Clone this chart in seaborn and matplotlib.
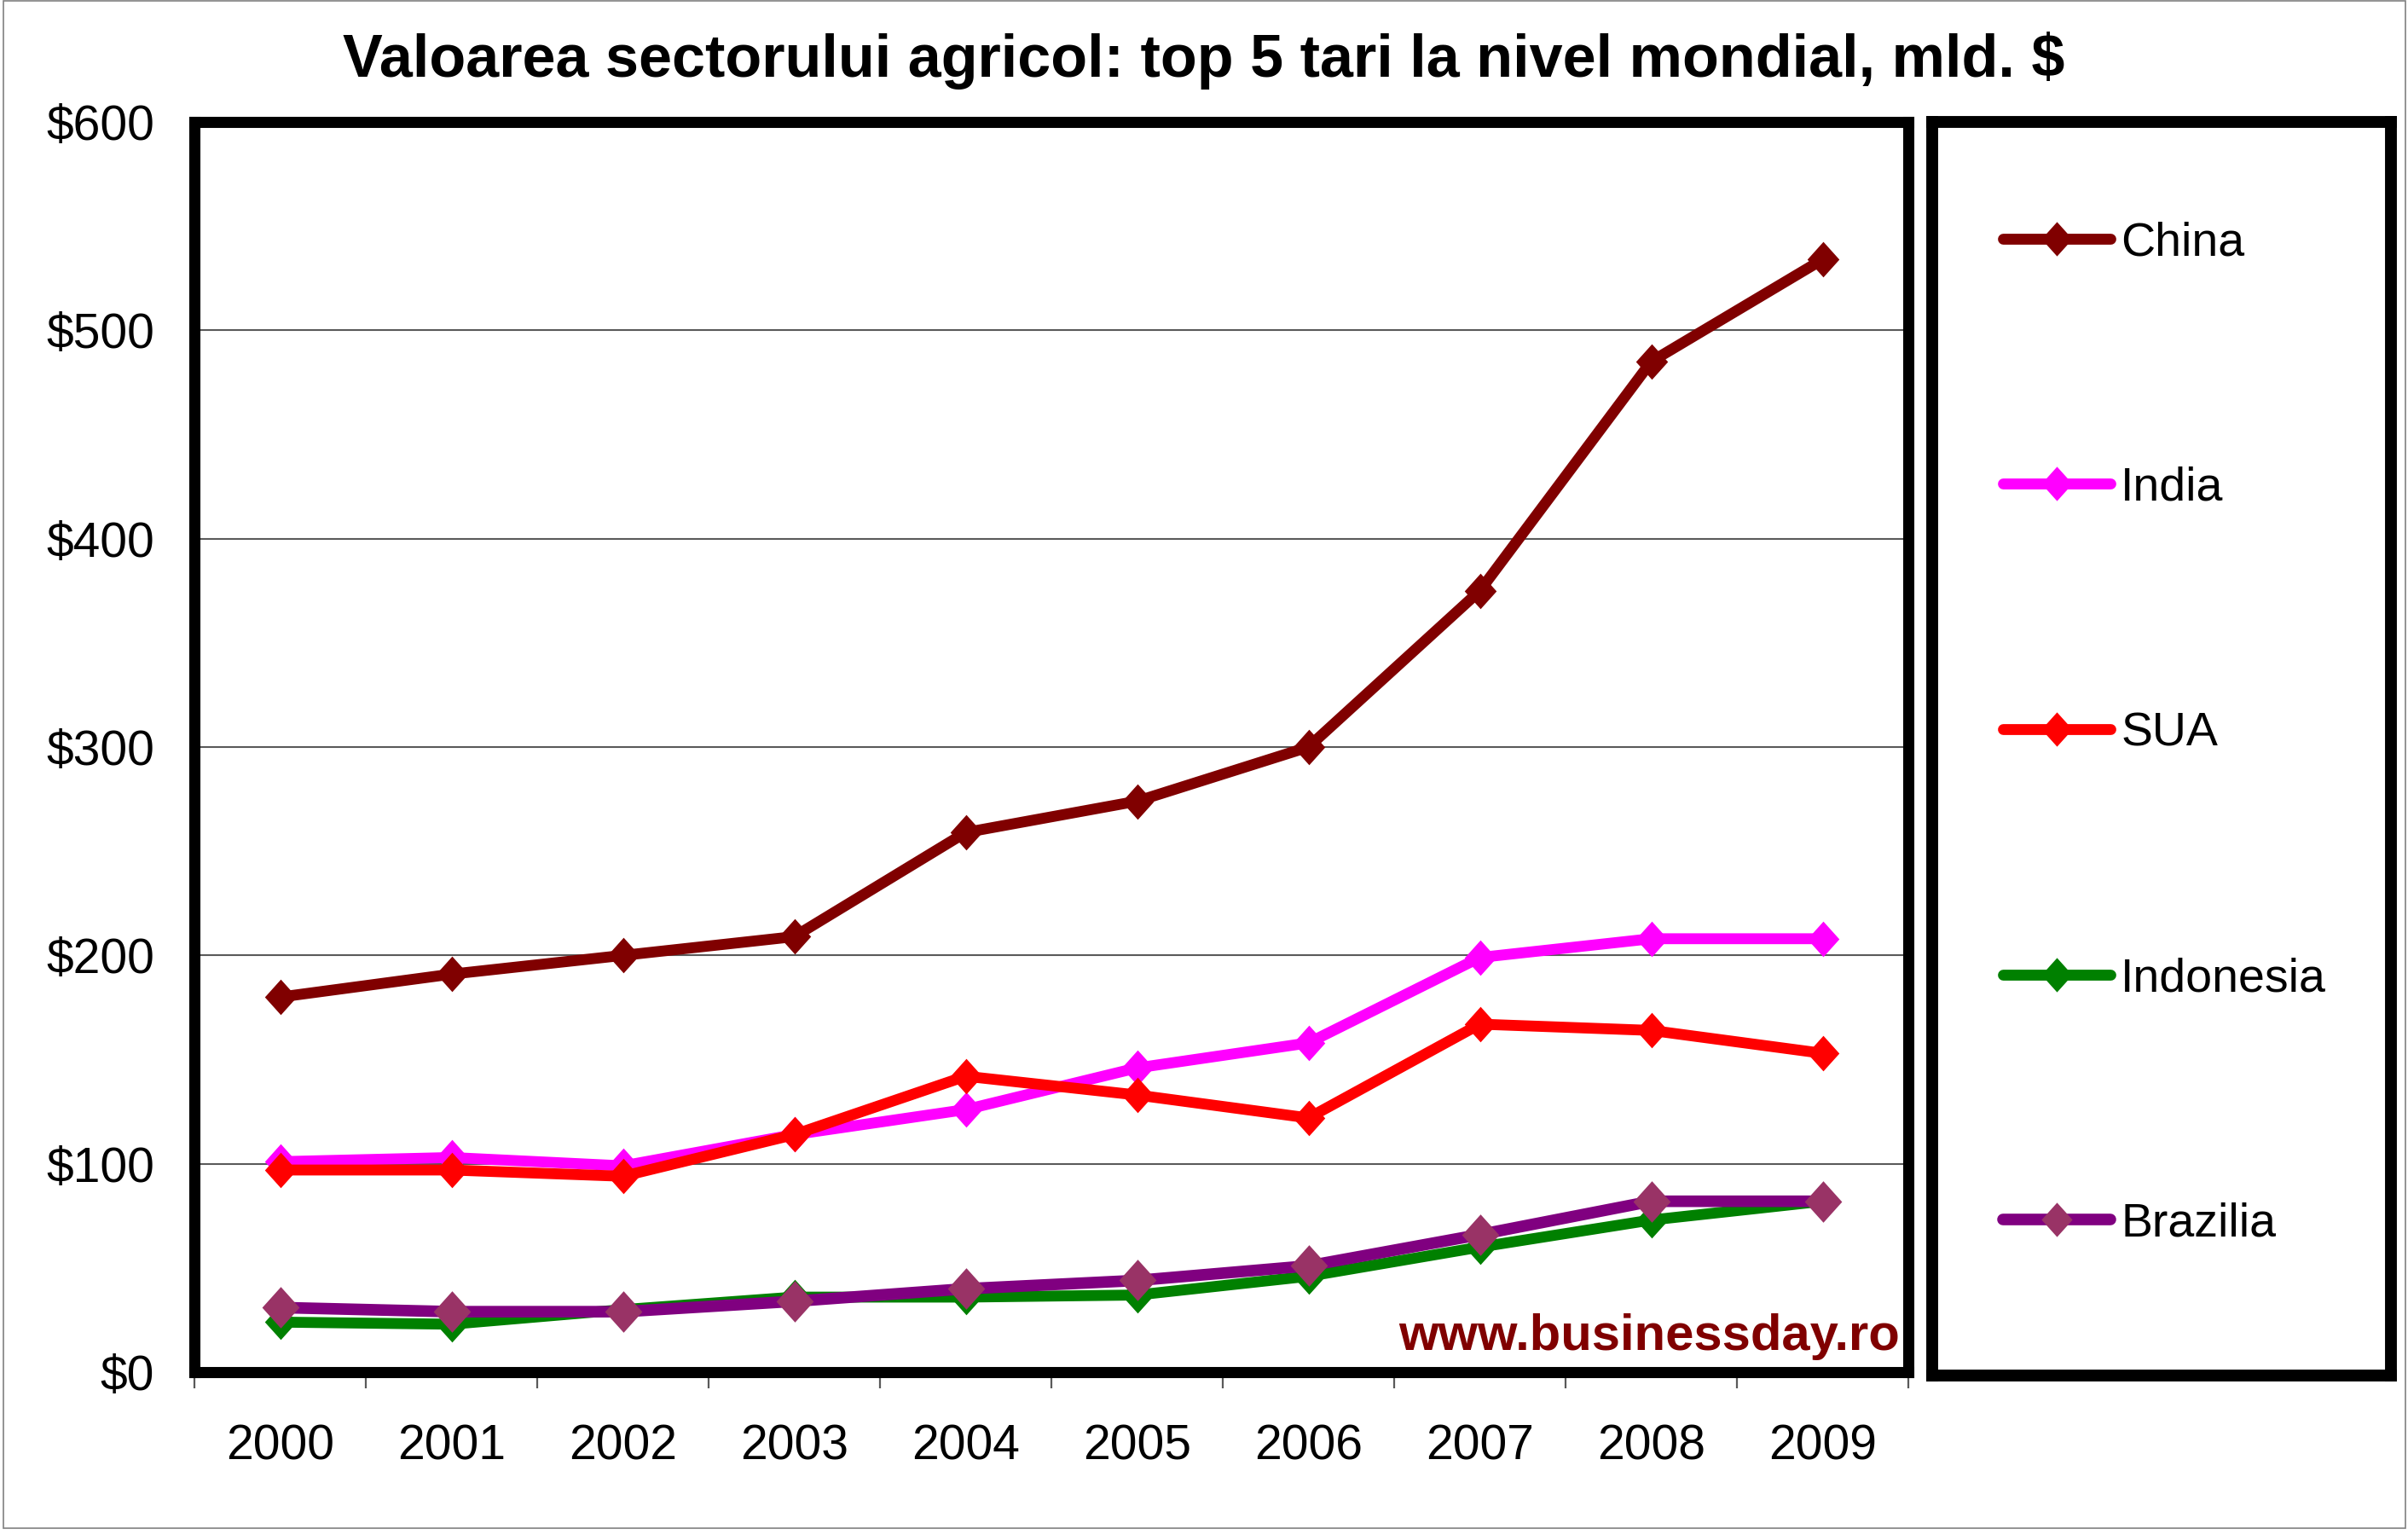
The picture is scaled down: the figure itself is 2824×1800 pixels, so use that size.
import numpy as np
import pandas as pd
import matplotlib
matplotlib.use("Agg")
import matplotlib.pyplot as plt
from matplotlib.patches import Rectangle
import seaborn as sns

# ---------------- data ----------------
years = ["2000", "2001", "2002", "2003", "2004", "2005", "2006", "2007", "2008", "2009"]
countries = ["China", "India", "SUA", "Indonesia", "Brazilia"]
china = [180, 191, 200, 209, 259, 274, 300, 375, 485, 534]
india = [101, 103, 99, 114, 126, 146, 158, 199, 208, 208]
sua = [97, 97, 94, 114, 142, 133, 122, 167, 164, 153]
indonesia = [24, 23, 30, 36, 36, 37, 46, 60, 73, 82]
brazilia = [31, 29, 29, 34, 40, 44, 51, 66, 82, 82]
y_ticks = [0, 100, 200, 300, 400, 500, 600]
y_tick_labels = ["$0", "$100", "$200", "$300", "$400", "$500", "$600"]
title = "Valoarea sectorului agricol: top 5 tari la nivel mondial, mld. $"
watermark = "www.businessday.ro"

series = {"China": china, "India": india, "SUA": sua,
          "Indonesia": indonesia, "Brazilia": brazilia}
line_colors = {"China": "#800000", "India": "#FF00FF", "SUA": "#FF0000",
               "Indonesia": "#008000", "Brazilia": "#800080"}
marker_colors = {"China": "#800000", "India": "#FF00FF", "SUA": "#FF0000",
                 "Indonesia": "#008000", "Brazilia": "#993366"}

rows = []
for c in countries:
    for i, (yr, v) in enumerate(zip(years, series[c])):
        rows.append({"country": c, "pos": i, "year": yr, "value": v})
df = pd.DataFrame(rows)

# ---------------- style ----------------
sns.set_theme(style="white")
plt.rcParams["font.family"] = ["Liberation Sans", "DejaVu Sans"]
plt.rcParams["text.parse_math"] = False

W, H = 2824, 1800
fig = plt.figure(figsize=(W / 100, H / 100), dpi=100)
fig.patch.set_facecolor("white")

def fx(px):
    return px / W

def fy(py):
    return 1 - py / H

# main plot axes (spine centres)
L, R, T, B = 228, 2238, 143, 1609
ax = fig.add_axes([fx(L), fy(B), fx(R - L), (B - T) / H])

diamond = [(0, 1), (0.9, 0), (0, -1), (-0.9, 0), (0, 1)]

for c in countries:
    sub = df[df["country"] == c]
    big = c == "Brazilia"
    sns.lineplot(data=sub, x="pos", y="value", ax=ax,
                 color=line_colors[c], linewidth=9.8 if big else 9.2,
                 marker=diamond, markersize=35 if big else 30,
                 markerfacecolor=marker_colors[c], markeredgecolor=marker_colors[c],
                 markeredgewidth=0, errorbar=None, legend=False,
                 solid_capstyle="round", label=c)

ax.set_xlim(-0.5, len(years) - 0.5)
ax.set_ylim(0, 600)
ax.set_xlabel("")
ax.set_ylabel("")

# y axis
ax.set_yticks(y_ticks)
ax.set_yticklabels(y_tick_labels)
ax.tick_params(axis="y", length=0, pad=33.8, labelsize=41, labelcolor="black")
ax.yaxis.grid(True, color="#5a5a5a", linewidth=1.5)
ax.xaxis.grid(False)
ax.set_axisbelow(True)

# x axis: ticks at category boundaries, labels at centres
ax.set_xticks(np.arange(-0.5, len(years), 1.0))
ax.set_xticklabels([""] * (len(years) + 1))
ax.set_xticks(np.arange(len(years)), minor=True)
ax.set_xticklabels(years, minor=True)
ax.tick_params(axis="x", which="major", length=13.7, width=1.6,
               color="#5a5a5a", direction="out", bottom=True)
ax.tick_params(axis="x", which="minor", length=0, pad=43.5,
               labelsize=41, labelcolor="black", bottom=True)

for s in ax.spines.values():
    s.set_visible(True)
    s.set_color("black")
    s.set_linewidth(9.4)
    s.set_capstyle("projecting")
    s.set_zorder(3)

ax.text((2228 - L) / (R - L), (B - 1583) / (B - T), watermark,
        transform=ax.transAxes, ha="right", va="baseline",
        fontsize=43, fontweight="bold", color="#800000")

# legend box axes
LL, LR, LT, LB = 2265.6, 2803.6, 143.3, 1613.3
axl = fig.add_axes([fx(LL), fy(LB), fx(LR - LL), (LB - LT) / H])
axl.set_xticks([])
axl.set_yticks([])
axl.set_facecolor("white")
for s in axl.spines.values():
    s.set_visible(True)
    s.set_color("black")
    s.set_linewidth(10)
    s.set_capstyle("projecting")

handles = ax.get_lines()[:len(countries)]
leg = fig.legend(handles, countries, loc="center left",
                 bbox_to_anchor=(fx(2349), fy(860.5)),
                 bbox_transform=fig.transFigure,
                 frameon=False, fontsize=40, labelspacing=4.24,
                 handlelength=2.27, handletextpad=0.22, borderpad=0,
                 borderaxespad=0, numpoints=1)
for h in leg.legend_handles:
    h.set_markersize(29)
for t in leg.get_texts():
    t.set_color("black")

# title
fig.text(0.5, fy(90), title, ha="center", va="baseline",
         fontsize=50.5, fontweight="bold", color="black")

# thin outer border
fig.patches.append(Rectangle((fx(4), fy(1792)), fx(2821 - 4), (1792 - 1) / H,
                             transform=fig.transFigure, fill=False,
                             edgecolor="#808080", linewidth=1.2))

fig.savefig("out.png", dpi=100, facecolor="white")
